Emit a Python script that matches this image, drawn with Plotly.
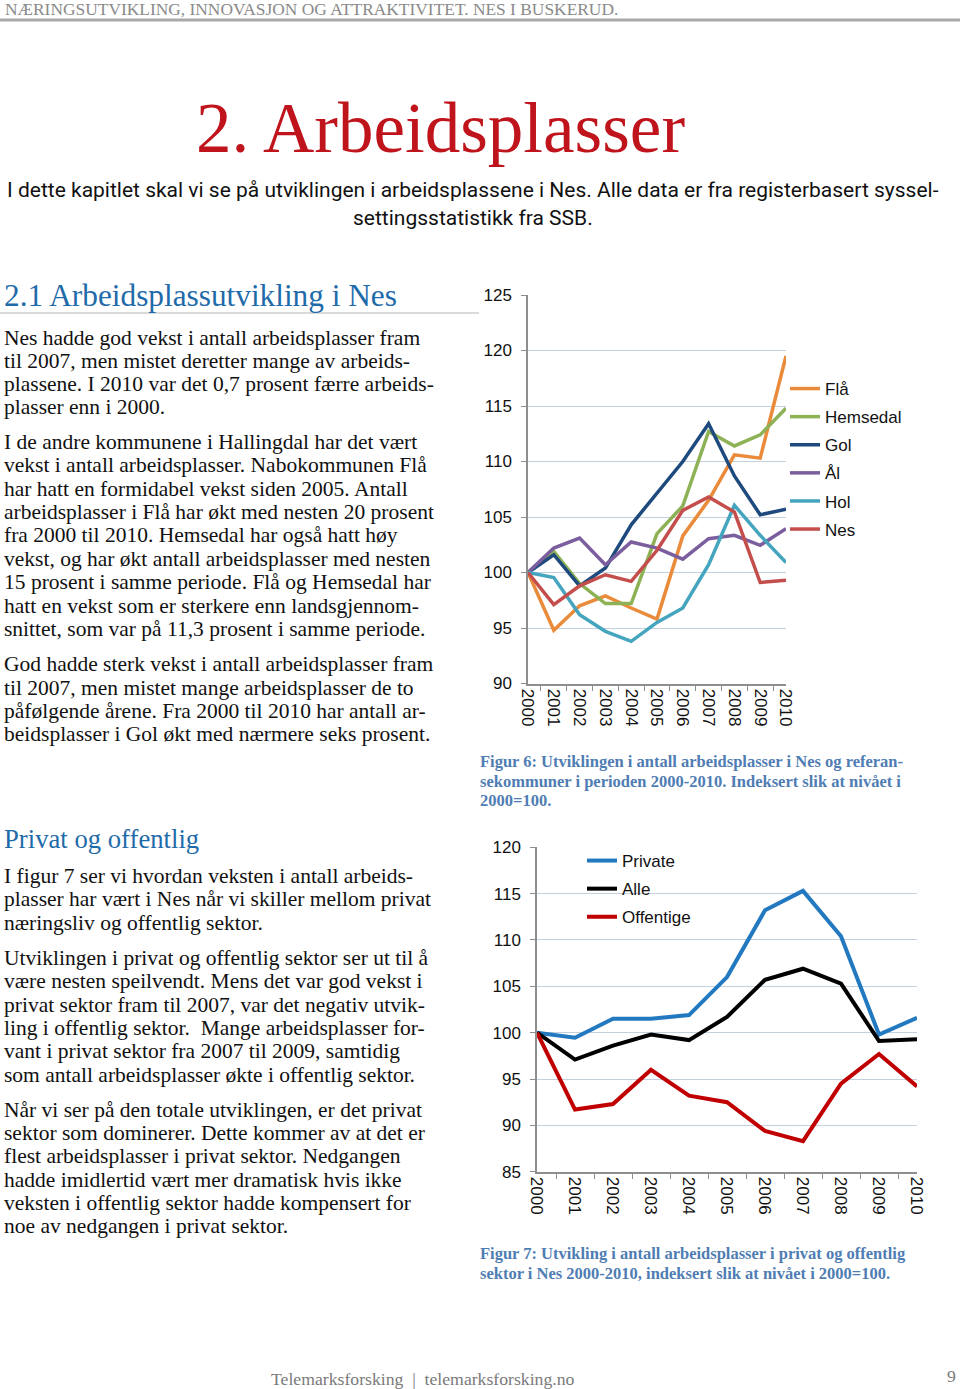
import plotly.graph_objects as go

# ---------------- data ----------------
years = ["2000", "2001", "2002", "2003", "2004", "2005", "2006", "2007", "2008", "2009", "2010"]

fla = [100, 94.8, 97.0, 97.9, 96.8, 95.8, 103.3, 106.5, 110.6, 110.3, 119.5]
hemsedal = [100, 101.9, 99.0, 97.2, 97.2, 103.5, 106.0, 112.7, 111.4, 112.4, 114.8]
gol = [100, 101.6, 98.8, 100.4, 104.3, 107.2, 110.0, 113.4, 108.7, 105.2, 105.7]
aal = [100, 102.2, 103.1, 100.7, 102.75, 102.2, 101.2, 103.05, 103.35, 102.45, 103.95]
hol = [100, 99.55, 96.2, 94.7, 93.8, 95.5, 96.8, 100.7, 106.05, 103.35, 100.9]
nes = [100, 97.1, 98.8, 99.8, 99.2, 102.0, 105.6, 106.8, 105.45, 99.1, 99.3]

private = [100, 99.46, 101.5, 101.5, 101.9, 106.0, 113.2, 115.3, 110.4, 99.8, 101.6]
alle = [100, 97.1, 98.6, 99.8, 99.2, 101.7, 105.7, 106.9, 105.3, 99.1, 99.3]
offentige = [100, 91.7, 92.3, 96.0, 93.2, 92.5, 89.4, 88.3, 94.5, 97.7, 94.2]

series1_names = ["Flå", "Hemsedal", "Gol", "Ål", "Hol", "Nes"]
series1_values = [fla, hemsedal, gol, aal, hol, nes]
series1_colors = ["#E98B3A", "#8DB255", "#1F4A7D", "#7B5E9E", "#45A5BE", "#C44E4C"]

series2_names = ["Private", "Alle", "Offentige"]
series2_values = [private, alle, offentige]
series2_colors = ["#2379C0", "#000000", "#C00000"]

W, H = 960, 1389


def px(x):
    return x / W


def py(y):
    return 1 - y / H


fig = go.Figure()

for name, vals, col in zip(series1_names, series1_values, series1_colors):
    fig.add_trace(go.Scatter(x=years, y=vals, name=name, mode="lines",
                             line=dict(color=col, width=3.5),
                             xaxis="x", yaxis="y", legend="legend",
                             legendgroup=name))

for name, vals, col in zip(series2_names, series2_values, series2_colors):
    fig.add_trace(go.Scatter(x=years, y=vals, name=name, mode="lines",
                             line=dict(color=col, width=4),
                             xaxis="x2", yaxis="y2", legend="legend2",
                             legendgroup=name))

tickfont = dict(family="Liberation Sans, Arial, sans-serif", size=17, color="#111")
gridcol = "#C3D0DE"
axcol = "#8E8E8E"

common_x = dict(type="category", tickangle=90, showline=True, linecolor=axcol, linewidth=1.5,
                ticks="outside", ticklen=6, tickcolor=axcol, tickson="boundaries",
                showgrid=False, tickfont=tickfont, zeroline=False, fixedrange=True,
                automargin=False)
common_y = dict(showgrid=True, gridcolor=gridcol, gridwidth=1.3, showline=True, linecolor=axcol,
                linewidth=1.5, ticks="outside", ticklen=5, tickcolor=axcol, dtick=5,
                tickfont=tickfont, zeroline=False, ticklabelstandoff=6, fixedrange=True,
                automargin=False)

fig.update_layout(
    width=W, height=H,
    margin=dict(l=0, r=0, t=0, b=0, pad=0, autoexpand=False),
    paper_bgcolor="white", plot_bgcolor="white",
    xaxis=dict(domain=[px(528), px(786)], anchor="y", **common_x),
    yaxis=dict(domain=[py(683.5), py(295)], range=[90, 125], anchor="x", **common_y),
    xaxis2=dict(domain=[px(537), px(917)], anchor="y2", **common_x),
    yaxis2=dict(domain=[py(1171.7), py(847.3)], range=[85, 120], anchor="x2", **common_y),
    legend=dict(x=px(785), y=py(371), xanchor="left", yanchor="top",
                font=dict(family="Liberation Sans, Arial, sans-serif", size=17, color="#111"),
                bgcolor="rgba(0,0,0,0)", traceorder="grouped", tracegroupgap=3),
    legend2=dict(x=px(582), y=py(843), xanchor="left", yanchor="top",
                 font=dict(family="Liberation Sans, Arial, sans-serif", size=17, color="#111"),
                 bgcolor="rgba(0,0,0,0)", traceorder="grouped", tracegroupgap=3),
    showlegend=True,
)

# ---------------- page text ----------------
serif = "Liberation Serif, Times New Roman, serif"
ann = []


def txt(x, y, s, size, color="#111", family=serif, anchor="left", bold=False):
    if bold:
        s = "<b>" + s + "</b>"
    ann.append(dict(x=px(x), y=py(y), xref="paper", yref="paper", text=s, showarrow=False,
                    xanchor=anchor, yanchor="middle",
                    font=dict(family=family, size=size, color=color)))


txt(3, 9, "NÆRINGSUTVIKLING, INNOVASJON OG ATTRAKTIVITET. NES I BUSKERUD.", 17.4, "#8A8A8A")
txt(440, 128, "2. Arbeidsplasser", 71, "#C0141C", anchor="center")
txt(473, 190, "I dette kapitlet skal vi se på utviklingen i arbeidsplassene i Nes. Alle data er fra registerbasert syssel-",
    21, "#111", family="Roboto, sans-serif", anchor="center")
txt(473, 218, "settingsstatistikk fra SSB.", 21, "#111", family="Roboto, sans-serif", anchor="center")

txt(2, 296, "2.1 Arbeidsplassutvikling i Nes", 31.3, "#1F6BAA")
txt(2, 839, "Privat og offentlig", 26.7, "#1F6BAA")

body = [
    (338, "Nes hadde god vekst i antall arbeidsplasser fram"),
    (361, "til 2007, men mistet deretter mange av arbeids-"),
    (384, "plassene. I 2010 var det 0,7 prosent færre arbeids-"),
    (407, "plasser enn i 2000."),
    (442, "I de andre kommunene i Hallingdal har det vært"),
    (465, "vekst i antall arbeidsplasser. Nabokommunen Flå"),
    (489, "har hatt en formidabel vekst siden 2005. Antall"),
    (512, "arbeidsplasser i Flå har økt med nesten 20 prosent"),
    (535, "fra 2000 til 2010. Hemsedal har også hatt høy"),
    (559, "vekst, og har økt antall arbeidsplasser med nesten"),
    (582, "15 prosent i samme periode. Flå og Hemsedal har"),
    (606, "hatt en vekst som er sterkere enn landsgjennom-"),
    (629, "snittet, som var på 11,3 prosent i samme periode."),
    (664, "God hadde sterk vekst i antall arbeidsplasser fram"),
    (688, "til 2007, men mistet mange arbeidsplasser de to"),
    (711, "påfølgende årene. Fra 2000 til 2010 har antall ar-"),
    (734, "beidsplasser i Gol økt med nærmere seks prosent."),
    (876, "I figur 7 ser vi hvordan veksten i antall arbeids-"),
    (899, "plasser har vært i Nes når vi skiller mellom privat"),
    (923, "næringsliv og offentlig sektor."),
    (958, "Utviklingen i privat og offentlig sektor ser ut til å"),
    (981, "være nesten speilvendt. Mens det var god vekst i"),
    (1005, "privat sektor fram til 2007, var det negativ utvik-"),
    (1028, "ling i offentlig sektor.  Mange arbeidsplasser for-"),
    (1051, "vant i privat sektor fra 2007 til 2009, samtidig"),
    (1075, "som antall arbeidsplasser økte i offentlig sektor."),
    (1110, "Når vi ser på den totale utviklingen, er det privat"),
    (1133, "sektor som dominerer. Dette kommer av at det er"),
    (1156, "flest arbeidsplasser i privat sektor. Nedgangen"),
    (1180, "hadde imidlertid vært mer dramatisk hvis ikke"),
    (1203, "veksten i offentlig sektor hadde kompensert for"),
    (1226, "noe av nedgangen i privat sektor."),
]
for y, s in body:
    txt(2, y, s, 21.5)

capcol = "#4F7DB3"
for y, s in [(761, "Figur 6: Utviklingen i antall arbeidsplasser i Nes og referan-"),
             (781, "sekommuner i perioden 2000-2010. Indeksert slik at nivået i"),
             (800, "2000=100."),
             (1253, "Figur 7: Utvikling i antall arbeidsplasser i privat og offentlig"),
             (1273, "sektor i Nes 2000-2010, indeksert slik at nivået i 2000=100.")]:
    txt(478, y, s, 16.5, capcol, bold=True)

txt(269, 1379, "Telemarksforsking  |  telemarksforsking.no", 17.7, "#7A7A7A")
txt(958, 1376, "9", 17.7, "#7A7A7A", anchor="right")

fig.update_layout(annotations=ann)

fig.update_layout(shapes=[
    dict(type="line", xref="paper", yref="paper", x0=0, x1=1, y0=py(20), y1=py(20),
         line=dict(color="#A8A8A8", width=3)),
    dict(type="line", xref="paper", yref="paper", x0=0, x1=px(479), y0=py(313), y1=py(313),
         line=dict(color="#B5B5B5", width=1.2)),
])

fig.write_html("out.html",
               config={"displayModeBar": False},
               post_script="document.body.style.margin='0';document.body.style.padding='0';")
